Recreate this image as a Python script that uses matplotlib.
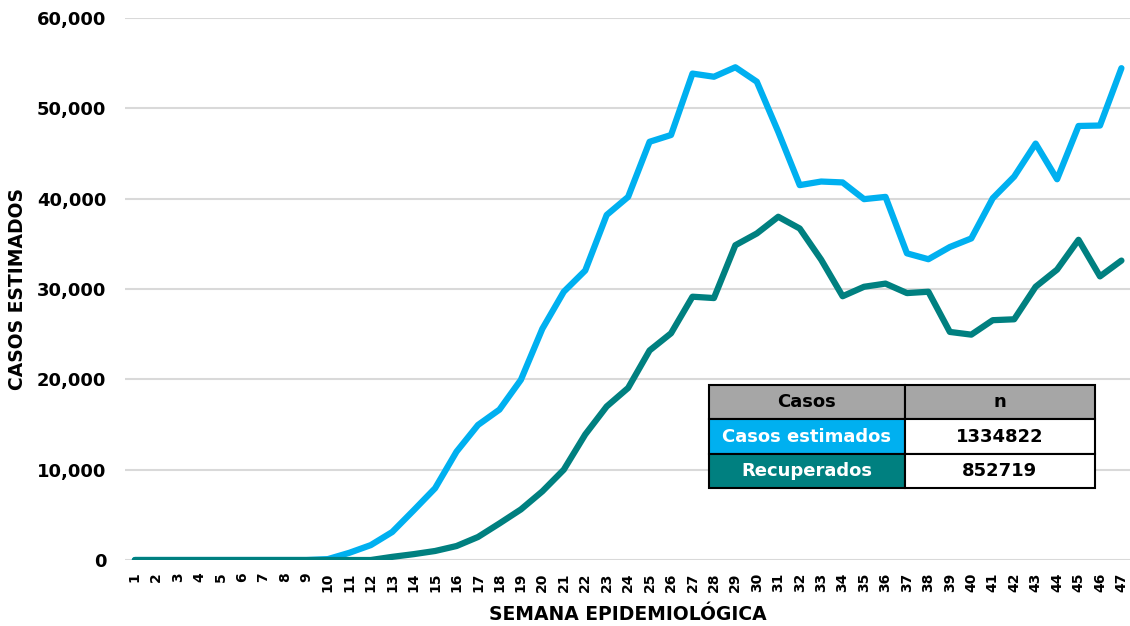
import matplotlib
matplotlib.use("Agg")
import matplotlib.pyplot as plt
from matplotlib.ticker import FuncFormatter

# weekly estimated cases / recovered
weeks = list(range(1, 48))
casos_estimados = [0, 0, 0, 0, 0, 0, 0, 0, 0, 100,
                   800, 1650, 3100, 5500, 7950, 12000, 14950, 16650, 19950, 25600,
                   29700, 32050, 38200, 40200, 46300, 47050, 53850, 53500, 54550, 52950,
                   47400, 41500, 41900, 41800, 39950, 40200, 33950, 33300, 34650, 35600,
                   40050, 42450, 46100, 42150, 48050, 48100, 54450]
recuperados = [0, 0, 0, 0, 0, 0, 0, 0, 0, 0,
               0, 0, 350, 650, 1000, 1550, 2550, 4050, 5600, 7600,
               10000, 13900, 17000, 19050, 23200, 25100, 29150, 29000, 34850, 36150,
               38000, 36700, 33250, 29200, 30250, 30600, 29550, 29700, 25250, 24950,
               26550, 26650, 30250, 32150, 35450, 31400, 33150]

tabla_header = ["Casos", "n"]
tabla_labels = ["Casos estimados", "Recuperados"]
tabla_totales = ["1334822", "852719"]

BLUE = "#00B0F0"
TEAL = "#008080"

plt.rcParams['font.family'] = "DejaVu Sans"

fig = plt.figure(figsize=(11.3, 6.26), dpi=100)
ax = fig.add_axes([0.1106, 0.1054, 0.8894, 0.8658])

ax.plot(weeks, casos_estimados, color=BLUE, lw=4.5, solid_capstyle='round',
        solid_joinstyle='round', zorder=3)
ax.plot(weeks, recuperados, color=TEAL, lw=4.5, solid_capstyle='round',
        solid_joinstyle='round', zorder=3)

ax.set_xlim(0.54, 47.4)
ax.set_ylim(0, 60000)
ax.set_yticks(range(0, 60001, 10000))
ax.yaxis.set_major_formatter(FuncFormatter(lambda v, p: f"{int(v):,}"))
ax.set_xticks(weeks)
ax.set_xticklabels([str(w) for w in weeks], rotation=90, fontsize=10,
                   fontweight='bold')
for lab in ax.get_yticklabels():
    lab.set_fontsize(13)
    lab.set_fontweight('bold')

ax.grid(axis='y', color='#d9d9d9', lw=1.5, zorder=0)
ax.tick_params(axis='both', length=0)
ax.tick_params(axis='y', pad=13.5)
ax.tick_params(axis='x', pad=9)
for s in ax.spines.values():
    s.set_visible(False)

ax.set_xlabel("SEMANA EPIDEMIOLÓGICA", fontsize=13.5, fontweight='bold', labelpad=9)
ax.set_ylabel("CASOS ESTIMADOS", fontsize=13.5, fontweight='bold')
ax.yaxis.set_label_coords(-0.097, 0.5)

# summary table
cells = [[l, t] for l, t in zip(tabla_labels, tabla_totales)]
tbl = ax.table(cellText=cells, colLabels=tabla_header, cellLoc='center',
               colWidths=[0.508, 0.492], bbox=[0.581, 0.1328, 0.384, 0.190])
tbl.auto_set_font_size(False)
row_colors = {1: BLUE, 2: TEAL}
for (r, c), cell in tbl.get_celld().items():
    cell.set_edgecolor('black')
    cell.set_linewidth(1.5)
    txt = cell.get_text()
    txt.set_fontsize(13)
    txt.set_fontweight('bold')
    if r == 0:
        cell.set_facecolor('#A6A6A6')
    elif c == 0:
        cell.set_facecolor(row_colors[r])
        txt.set_color('white')
    else:
        cell.set_facecolor('white')
tbl.set_zorder(5)

fig.savefig("out.png", dpi=100)
